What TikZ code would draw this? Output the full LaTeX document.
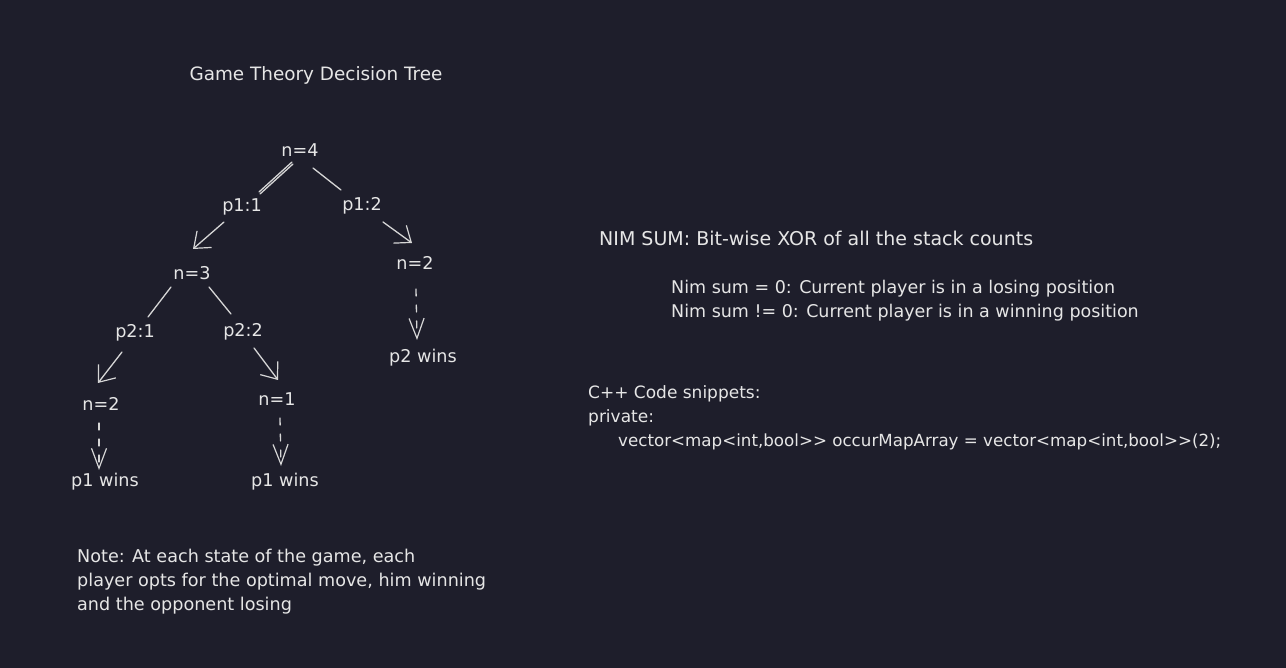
\documentclass[tikz,border=0pt]{standalone}
\usepackage{fontspec}
\setmainfont{DejaVu Sans}
\usetikzlibrary{arrows.meta,calc}
\definecolor{bg}{RGB}{30,30,43}
\definecolor{ink}{RGB}{230,230,230}
\definecolor{strokec}{RGB}{214,214,214}
\tikzset{
  lbl/.style={text=ink,font=\fontsize{17.6}{21}\selectfont,inner sep=0pt},
  lbll/.style={lbl,anchor=west},
  edge/.style={draw=strokec,line width=1.3pt,line cap=round},
  arr/.style={edge,-{Straight Barb[length=14pt,width=22pt,line width=1.2pt]}},
  darr/.style={edge,dash pattern=on 7pt off 9pt,-{Straight Barb[length=20pt,width=15pt,line width=1.2pt]}},
}
\begin{document}
\begin{tikzpicture}[x=1pt,y=-1pt]
\fill[bg] (0,0) rectangle (1286,668);
\useasboundingbox (0,0) rectangle (1286,668);

\node[lbl,font=\fontsize{18.4}{22}\selectfont] (title) at (316,75) {Game Theory Decision Tree};

\node[lbl] (n4) at (300,150) {n=4};
\node[lbl] (p11) at (242,207) {p1:1};
\node[lbl] (p12) at (362,206) {p1:2};
\node[lbl] (n3) at (192,273) {n=3};
\node[lbl] (n2r) at (415,263) {n=2};
\node[lbl] (p2w) at (423,358) {p2 wins};
\node[lbl] (p21) at (135,333) {p2:1};
\node[lbl] (p22) at (243,332) {p2:2};
\node[lbl] (n2l) at (101,404) {n=2};
\node[lbl] (n1) at (277,399) {n=1};
\node[lbl] (p1wl) at (105,482) {p1 wins};
\node[lbl] (p1wm) at (285,482) {p1 wins};

% n=4 branches
\draw[edge] ($(n4)+(-8,12)$) -- ($(p11)+(17,-15)$);
\draw[edge] ($(n4)+(-7,14)$) -- ($(p11)+(18,-13)$);
\draw[edge] ($(n4)+(13,18)$) -- ($(p12)+(-21,-16)$);
% p1 arrows
\draw[arr] ($(p11)+(-18,15)$) -- ($(n3)+(1,-24)$);
\draw[arr] ($(p12)+(21,16)$) -- ($(n2r)+(-3,-20)$);
% n=3 branches
\draw[edge] ($(n3)+(-21,14)$) -- ($(p21)+(13,-16)$);
\draw[edge] ($(n3)+(17,14)$) -- ($(p22)+(-12,-18)$);
% p2 arrows
\draw[arr] ($(p21)+(-13,19)$) -- ($(n2l)+(-3,-21)$);
\draw[arr] ($(p22)+(11,16)$) -- ($(n1)+(1,-19)$);
% dashed arrows to results
\draw[darr] ($(n2r)+(1,26)$) -- ($(p2w)+(-6,-18)$);
\draw[darr] ($(n2l)+(-2,19)$) -- ($(p1wl)+(-6,-12)$);
\draw[darr] ($(n1)+(3,19)$) -- ($(p1wm)+(-4,-16)$);

% right side texts
\node[lbll,font=\fontsize{19}{23}\selectfont] (nim) at (599,238) {NIM SUM: Bit-wise XOR of all the stack counts};
\node[lbll,font=\fontsize{17.5}{21}\selectfont] (nim0) at (671,289) {Nim sum = 0: Current player is in a losing position};
\node[lbll,font=\fontsize{17.5}{21}\selectfont] (nim1) at (671,313) {Nim sum != 0: Current player is in a winning position};
\node[lbll,font=\fontsize{17}{21}\selectfont] (cpp) at (588,394) {C++ Code snippets:};
\node[lbll,font=\fontsize{17}{21}\selectfont] (priv) at (588,418) {private:};
\node[lbll,font=\fontsize{16.7}{20}\selectfont] (code) at (618,442) {vector<map<int,bool>{}> occurMapArray = vector<map<int,bool>{}>(2);};

% note
\node[lbll] (note1) at (77,558) {Note: At each state of the game, each};
\node[lbll] (note2) at (77,582) {player opts for the optimal move, him winning};
\node[lbll] (note3) at (77,606) {and the opponent losing};
\end{tikzpicture}
\end{document}
